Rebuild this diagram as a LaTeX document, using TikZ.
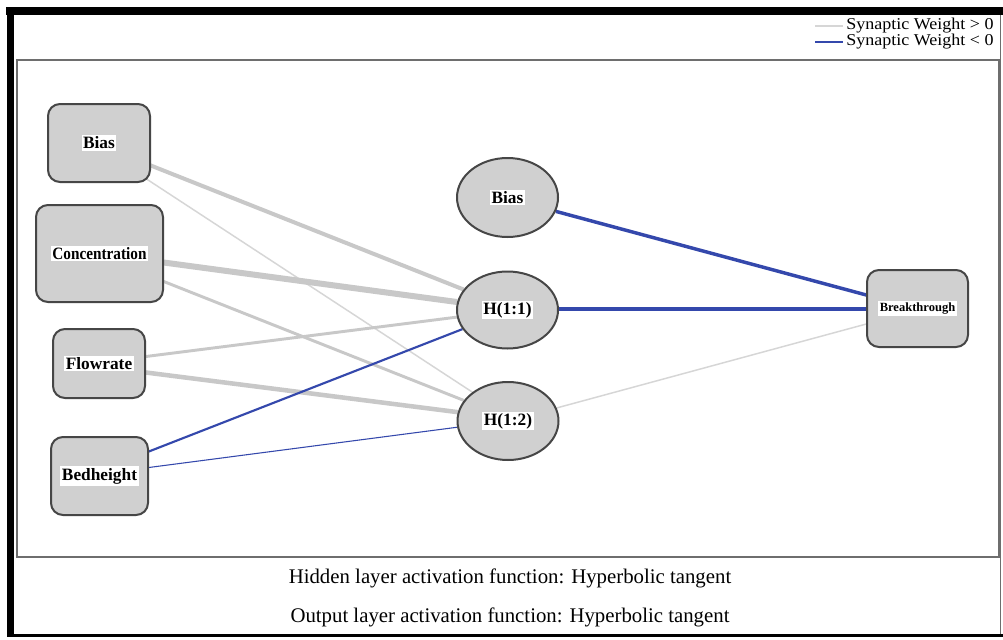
\documentclass[tikz,border=0pt]{standalone}
\usepackage{fontspec}
\setmainfont{Liberation Serif}
\usetikzlibrary{shapes.geometric,calc}
\pgfdeclarelayer{bg}
\pgfsetlayers{bg,main}
\definecolor{posw}{RGB}{200,200,200}
\definecolor{posl}{RGB}{214,214,214}
\definecolor{negw}{RGB}{52,72,172}
\definecolor{nodefill}{RGB}{208,208,208}
\definecolor{nodeline}{RGB}{70,70,70}
\definecolor{panel}{RGB}{110,110,110}
\newcommand{\lbl}[1]{{\setlength{\fboxsep}{1.2pt}\colorbox{white}{#1}}}
\tikzset{
  inbox/.style={draw=nodeline, fill=nodefill, line width=1.5pt, rounded corners=9pt,
    inner sep=0pt, font=\fontsize{13}{15}\selectfont\bfseries},
  hidnode/.style={ellipse, draw=nodeline, fill=nodefill, line width=1.5pt,
    inner sep=0pt, minimum width=75.75pt, font=\fontsize{13}{15}\selectfont\bfseries},
  pos/.style={draw=posw, line width=#1},
  posthin/.style={draw=posl, line width=#1},
  neg/.style={draw=negw, line width=#1},
  legtext/.style={anchor=west, inner sep=0pt, font=\fontsize{12.4}{14}\selectfont},
  foot/.style={inner sep=0pt, font=\fontsize{15.6}{18}\selectfont}
}
\begin{document}
\begin{tikzpicture}[x=0.75pt,y=-0.75pt]
\useasboundingbox (0,0) rectangle (1003,639);
\begin{pgfonlayer}{bg}
\fill[white] (0,0) rectangle (1003,639);
\end{pgfonlayer}
% outer frame
\fill[black] (6,7) rectangle (1003,15);
\fill[black] (7,7) rectangle (14,637);
\fill[black] (7,634) rectangle (1003,637);
\draw[panel, line width=1.2pt] (1000.5,15) -- (1000.5,634);
% inner panel
\draw[panel, line width=1.5pt] (17,60) rectangle (999,557);

% legend
\node[legtext] (leg1) at (846,26) {\scalebox{1.09}[1]{Synaptic Weight > 0}};
\node[legtext] (leg2) at (846,42) {\scalebox{1.09}[1]{Synaptic Weight < 0}};
\coordinate (l1) at (815,26);
\coordinate (l2) at (815,42);
\draw[posl, line width=1.5pt] (l1) -- ($(leg1.west)+(-3,0)$);
\draw[negw, line width=2pt] (l2) -- ($(leg2.west)+(-3,0)$);

% input layer
\node[inbox, minimum width=76.5pt, minimum height=58.5pt] (bias) at (99,143) {\lbl{Bias}};
\node[inbox, minimum width=95.25pt, minimum height=72.75pt] (conc) at (99.5,253.5) {\lbl{\scalebox{0.88}[1]{Concentration}}};
\node[inbox, minimum width=69pt, minimum height=51.75pt] (flow) at (99,363.5) {\lbl{Flowrate}};
\node[inbox, minimum width=72.75pt, minimum height=58.5pt] (bed) at (99.5,476) {\lbl{Bedheight}};

% hidden layer
\node[hidnode, minimum height=59.25pt] (hb) at (507.5,197.5) {\lbl{Bias}};
\node[hidnode, minimum height=57.75pt] (h11) at (507.5,310) {\lbl{H(1:1)}};
\node[hidnode, minimum height=58.5pt] (h12) at (508,421) {\lbl{H(1:2)}};

% output
\node[inbox, minimum width=75.75pt, minimum height=57.75pt, font=\fontsize{9.4}{11}\selectfont\bfseries] (brk) at (917.5,308.5) {\lbl{Breakthrough}};

\begin{pgfonlayer}{bg}
\draw[pos=3pt] ($(bias.east)+(-4,21)$) -- (h11.155);
\draw[posthin=1.1pt] ($(bias.east)+(-6,35)$) -- (h12.141);
\draw[pos=4.5pt] ($(conc.east)+(-4,8.5)$) -- (h11.171);
\draw[pos=2.2pt] ($(conc.east)+(-4,26.5)$) -- (h12.155);
\draw[pos=2.2pt] ($(flow.east)+(-4,-6.5)$) -- (h11.188);
\draw[pos=3.4pt] ($(flow.east)+(-4,8.5)$) -- (h12.170);
\draw[neg=1.6pt] ($(bed.east)+(-4,-23)$) -- (h11.203);
\draw[neg=0.8pt] ($(bed.east)+(-4,-8)$) -- (h12.187);
\draw[neg=2.6pt] (hb.344) -- ($(brk.west)+(4,-12.5)$);
\draw[neg=3pt] ($(h11.east |- brk.west)+(-4,0)$) -- ($(brk.west)+(4,0)$);
\draw[posthin=1.1pt] (h12.15) -- ($(brk.west)+(4,14.5)$);
\end{pgfonlayer}

% footer
\node[foot] (f1) at (510,578) {Hidden layer activation function: Hyperbolic tangent};
\node[foot] (f2) at (510,617) {Output layer activation function: Hyperbolic tangent};
\end{tikzpicture}
\end{document}
